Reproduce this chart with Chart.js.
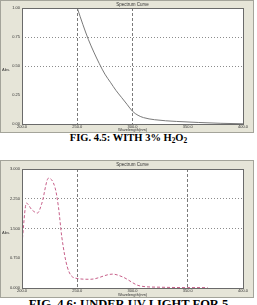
<!DOCTYPE html>
<html>
<head>
<meta charset="utf-8">
<script src="https://cdn.jsdelivr.net/npm/chart.js@4/dist/chart.umd.min.js"></script>
<style>
  body { margin: 0; background: #ffffff; width: 257px; height: 305px; overflow: hidden; position: relative; }
  .panel { position: absolute; left: 0; width: 254px; box-sizing: border-box; border: 1px solid #a4a49a; background: #e6e5d8; }
  .panel canvas { display: block; }
  .caption { position: absolute; left: 0; width: 257px; text-align: center; font-family: "Liberation Serif", serif; font-weight: bold; color: #000; white-space: nowrap; }
  .caption sub { font-size: 70%; vertical-align: -2px; line-height: 0; }
</style>
</head>
<body>
<div class="panel" style="top:0; height:133px;"><canvas id="chart1" width="252" height="131"></canvas></div>
<div class="caption" style="top:132px; font-size:10.5px;">FIG. 4.5: WITH 3% H<sub>2</sub>O<sub>2</sub></div>
<div class="panel" style="top:160px; height:138px;"><canvas id="chart2" width="252" height="136"></canvas></div>
<div class="caption" style="top:297px; font-size:12.5px;">FIG. 4.6: UNDER UV LIGHT FOR 5</div>

<script>
// Spectrum data
const wavelength1 = [250, 255, 260, 265, 270, 275, 280, 285, 290, 295, 300, 305, 310, 320, 340, 360, 380, 400];
const absorbance1 = [1.00, 0.86, 0.73, 0.62, 0.52, 0.43, 0.36, 0.29, 0.23, 0.17, 0.11, 0.075, 0.055, 0.037, 0.022, 0.013, 0.006, 0.002];

const wavelength2 = [200, 204, 209, 214, 218, 224, 230, 233, 236, 241, 248, 262, 282, 291, 307, 325, 350, 368];
const absorbance2 = [1.13, 2.14, 1.97, 1.89, 2.14, 2.77, 2.52, 2.04, 1.29, 0.53, 0.25, 0.22, 0.35, 0.28, 0.05, 0.02, 0.01, 0.01];

const xTicks = [200, 250, 300, 350, 400];
const yTicks1 = [0, 0.25, 0.5, 0.75, 1.0];
const yTicks2 = [0, 0.75, 1.5, 2.25, 3.0];

const chartTitle = 'Spectrum Curve';
const xTitle = 'Wavelength(nm)';
const yTitle = 'Abs.';

const tickFont = { family: 'Liberation Sans', size: 4 };

// draws plot border, title and axis titles
const decorPlugin = {
    id: 'decor',
    afterDraw(chart) {
        const ctx = chart.ctx;
        const a = chart.chartArea;
        ctx.save();
        ctx.strokeStyle = '#6a6a6a';
        ctx.lineWidth = 1;
        ctx.strokeRect(Math.round(a.left) + 0.5, Math.round(a.top) + 0.5, Math.round(a.right - a.left), Math.round(a.bottom - a.top));
        ctx.fillStyle = '#333';
        ctx.font = '4.5px "Liberation Sans"';
        ctx.textAlign = 'center';
        ctx.textBaseline = 'middle';
        ctx.fillText(chartTitle, (a.left + a.right) / 2, a.top / 2);
        ctx.font = '4px "Liberation Sans"';
        ctx.fillText(xTitle, (a.left + a.right) / 2, chart.height - 2);
        ctx.textAlign = 'left';
        ctx.fillText(yTitle, 1, (a.top + a.bottom) / 2 + 4);
        ctx.restore();
    }
};

function toPoints(xs, ys) {
    return xs.map((x, i) => ({ x: x, y: ys[i] }));
}

function makeChart(id, points, yTicks, yDigits, lineStyle, xGrid, yGrid, plotTop, xHeight) {
    const yMax = yTicks[yTicks.length - 1];
    return new Chart(document.getElementById(id).getContext('2d'), {
        type: 'line',
        data: {
            datasets: [{
                data: points,
                borderColor: lineStyle.color,
                borderWidth: 1,
                borderDash: lineStyle.dash,
                pointRadius: 0,
                tension: 0.4,
                cubicInterpolationMode: 'monotone',
                fill: false
            }]
        },
        options: {
            responsive: false,
            animation: false,
            layout: { padding: { top: plotTop, right: 10, left: 0, bottom: 0 } },
            plugins: { legend: { display: false }, tooltip: { enabled: false } },
            scales: {
                x: {
                    type: 'linear',
                    min: xTicks[0],
                    max: xTicks[xTicks.length - 1],
                    afterBuildTicks: s => { s.ticks = xTicks.map(v => ({ value: v })); },
                    afterFit: s => { s.height = xHeight; },
                    ticks: { font: tickFont, color: '#333', padding: 0, maxRotation: 0, callback: v => v.toFixed(1) },
                    grid: {
                        drawTicks: false,
                        color: c => xGrid.includes(c.tick && c.tick.value) ? '#7a7a7a' : 'rgba(0,0,0,0)'
                    },
                    border: { display: false, dash: [3, 2] }
                },
                y: {
                    min: 0,
                    max: yMax,
                    afterBuildTicks: s => { s.ticks = yTicks.map(v => ({ value: v })); },
                    afterFit: s => { s.width = 21; },
                    ticks: { font: tickFont, color: '#333', padding: 2, callback: v => v.toFixed(yDigits) },
                    grid: {
                        drawTicks: false,
                        color: c => yGrid.includes(c.tick && c.tick.value) ? '#8c8c8c' : 'rgba(0,0,0,0)'
                    },
                    border: { display: false, dash: [1, 2] }
                }
            }
        },
        plugins: [{
            id: 'plotBg',
            beforeDraw(chart) {
                const a = chart.chartArea;
                chart.ctx.save();
                chart.ctx.fillStyle = '#ffffff';
                chart.ctx.fillRect(a.left, a.top, a.right - a.left, a.bottom - a.top);
                chart.ctx.restore();
            }
        }, decorPlugin]
    });
}

makeChart('chart1', toPoints(wavelength1, absorbance1), yTicks1, 2,
    { color: '#7a7a7a', dash: [] }, [250, 300], [0.5, 0.75], 7, 8);

makeChart('chart2', toPoints(wavelength2, absorbance2), yTicks2, 3,
    { color: '#c8608a', dash: [3, 2] }, [250, 350], [1.5, 2.25], 8, 9);
</script>
</body>
</html>
